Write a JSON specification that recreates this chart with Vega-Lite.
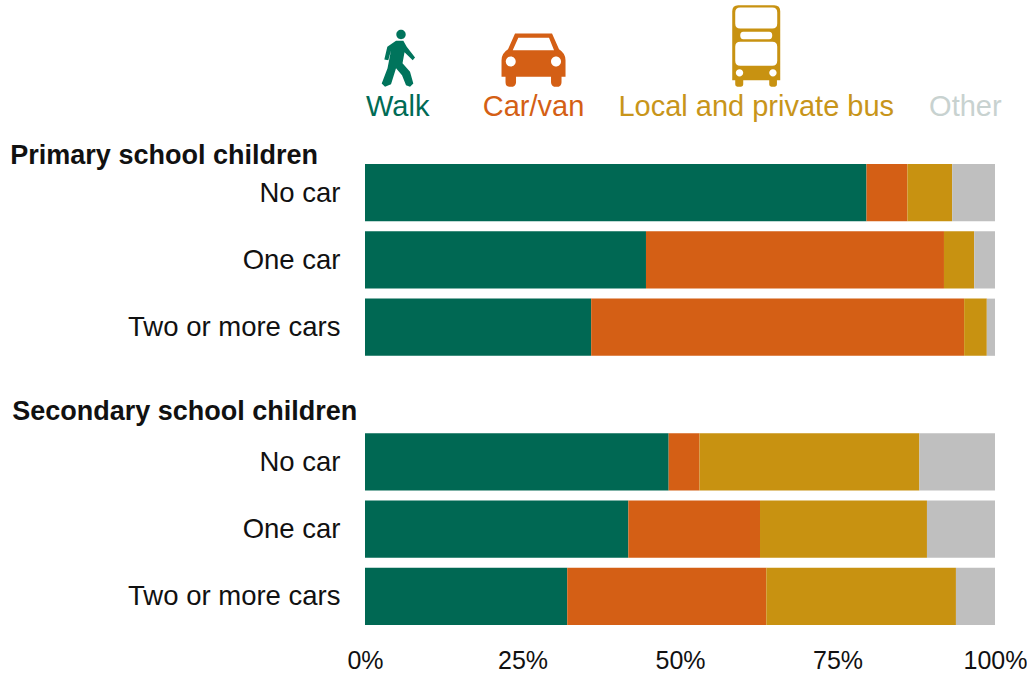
{"$schema":"https://vega.github.io/schema/vega-lite/v6.json","width":630,"height":471,"autosize":{"type":"none"},"padding":{"left":365,"top":159,"right":32,"bottom":45},"background":"white","config":{"view":{"stroke":null},"font":"Liberation Sans"},"resolve":{"scale":{"color":"independent"}},"layer":[{"data":{"values":[{"row":"p0","mode":"Walk","pos":1,"share":79.6},{"row":"p0","mode":"Car/van","pos":2,"share":6.5},{"row":"p0","mode":"Local and private bus","pos":3,"share":7.1},{"row":"p0","mode":"Other","pos":4,"share":6.8},{"row":"p1","mode":"Walk","pos":1,"share":44.6},{"row":"p1","mode":"Car/van","pos":2,"share":47.3},{"row":"p1","mode":"Local and private bus","pos":3,"share":4.8},{"row":"p1","mode":"Other","pos":4,"share":3.3},{"row":"p2","mode":"Walk","pos":1,"share":35.9},{"row":"p2","mode":"Car/van","pos":2,"share":59.2},{"row":"p2","mode":"Local and private bus","pos":3,"share":3.6},{"row":"p2","mode":"Other","pos":4,"share":1.3},{"row":"s0","mode":"Walk","pos":1,"share":48.2},{"row":"s0","mode":"Car/van","pos":2,"share":4.9},{"row":"s0","mode":"Local and private bus","pos":3,"share":34.9},{"row":"s0","mode":"Other","pos":4,"share":12.0},{"row":"s1","mode":"Walk","pos":1,"share":41.8},{"row":"s1","mode":"Car/van","pos":2,"share":20.9},{"row":"s1","mode":"Local and private bus","pos":3,"share":26.5},{"row":"s1","mode":"Other","pos":4,"share":10.8},{"row":"s2","mode":"Walk","pos":1,"share":32.1},{"row":"s2","mode":"Car/van","pos":2,"share":31.6},{"row":"s2","mode":"Local and private bus","pos":3,"share":30.1},{"row":"s2","mode":"Other","pos":4,"share":6.2}]},"mark":{"type":"bar"},"encoding":{"y":{"field":"row","type":"nominal","scale":{"domain":["p0","p1","p2","gap","s0","s1","s2"],"paddingInner":0.15,"paddingOuter":0.075},"axis":{"title":null,"ticks":false,"domain":false,"labelFontSize":27.5,"labelLimit":300,"labelColor":"#111111","labelPadding":25,"labelOffset":1,"labelExpr":"datum.value=='gap'?'':(datum.value=='p0'||datum.value=='s0')?'No car':(datum.value=='p1'||datum.value=='s1')?'One car':'Two or more cars'"}},"x":{"field":"share","type":"quantitative","stack":"zero","scale":{"domain":[0,100],"nice":false},"axis":{"title":null,"grid":false,"ticks":false,"domain":false,"values":[0,25,50,75,100],"labelFontSize":25,"labelColor":"#111111","labelPadding":18,"labelExpr":"datum.value+'%'","labelFlush":false}},"order":{"field":"pos","type":"quantitative"},"color":{"field":"mode","type":"nominal","legend":null,"scale":{"domain":["Walk","Car/van","Local and private bus","Other"],"range":["#006853","#d45f15","#c89211","#bfbfbf"]}}}},{"data":{"values":[{"row":"p0","mode":"Walk","at":5.2},{"row":"p0","mode":"Car/van","at":26.75},{"row":"p0","mode":"Local and private bus","at":62.1},{"row":"p0","mode":"Other","at":95.3}]},"mark":{"type":"text","fontSize":29,"dy":-86,"clip":false},"encoding":{"x":{"field":"at","type":"quantitative"},"y":{"field":"row","type":"nominal"},"text":{"field":"mode"},"color":{"field":"mode","type":"nominal","legend":null,"scale":{"domain":["Walk","Car/van","Local and private bus","Other"],"range":["#006b55","#d45f15","#c8951a","#c8d2d0"]}}}},{"data":{"values":[{"row":"p0","mode":"Walk","at":5.4},{"row":"p0","mode":"Car/van","at":26.75},{"row":"p0","mode":"Local and private bus","at":62.1}]},"mark":{"type":"point","filled":true,"opacity":1,"size":4,"yOffset":-132.5,"clip":false},"encoding":{"x":{"field":"at","type":"quantitative"},"y":{"field":"row","type":"nominal"},"shape":{"field":"mode","type":"nominal","legend":null,"scale":{"domain":["Walk","Car/van","Local and private bus"],"range":["M-3,-19.3 L4.3,-19.3 L7.7,-13.3 L16,-2.7 L13.7,0 L5.5,-8 L3.5,3 L11,11.7 L14.3,23.3 L11,26.7 L7,25 L3,15 L-3,8 L-8,24 L-14,26.7 L-17.3,23.3 L-11.5,8 L-8,-10 L-10.7,0 L-14.7,-0.7 L-11.7,-13.3 Z M-2.7,-25.7 A4.7,4.7 0 1 1 6.7,-25.7 A4.7,4.7 0 1 1 -2.7,-25.7 Z","M-18.5,-26.7 L18.5,-26.7 L25.5,-11 Q32,-7 32,0 L32,16.7 L28,16.7 L28,22 Q28,26.7 23,26.7 Q17.5,26.7 17.5,22 L17.5,16.7 L-17.5,16.7 L-17.5,22 Q-17.5,26.7 -23,26.7 Q-28,26.7 -28,22 L-28,16.7 L-32,16.7 L-32,0 Q-32,-7 -25.5,-11 Z M-15.2,-22.3 L-20.8,-10 L20.5,-10 L15.5,-22.3 Z M-27.8,1.3 A5,5 0 1 0 -17.8,1.3 A5,5 0 1 0 -27.8,1.3 Z M17.5,1.3 A5,5 0 1 0 27.5,1.3 A5,5 0 1 0 17.5,1.3 Z","M-18,-55 L18,-55 Q24,-55 24,-49 L24,20 L20.7,20 L20.7,24 Q20.7,26.7 17,26.7 Q13,26.7 13,24 L13,20 L-13,20 L-13,24 Q-13,26.7 -17,26.7 Q-21,26.7 -21,24 L-21,20 L-24,20 L-24,-49 Q-24,-55 -18,-55 Z M-16,-52.7 Q-21,-52.7 -21,-47.7 L-21,-36.7 Q-21,-31.7 -16,-31.7 L16,-31.7 Q21,-31.7 21,-36.7 L21,-47.7 Q21,-52.7 16,-52.7 Z M-13,-28.3 Q-16,-28.3 -16,-24.6 Q-16,-21 -13,-21 L13,-21 Q16,-21 16,-24.6 Q16,-28.3 13,-28.3 Z M-16,-18.3 Q-21,-18.3 -21,-13.3 L-21,0.7 Q-21,5.7 -16,5.7 L16,5.7 Q21,5.7 21,0.7 L21,-13.3 Q21,-18.3 16,-18.3 Z M-20.4,12.7 A3.7,3.7 0 1 0 -13,12.7 A3.7,3.7 0 1 0 -20.4,12.7 Z M13,12.7 A3.7,3.7 0 1 0 20.4,12.7 A3.7,3.7 0 1 0 13,12.7 Z"]}},"color":{"field":"mode","type":"nominal","legend":null,"scale":{"domain":["Walk","Car/van","Local and private bus"],"range":["#00745c","#d45f15","#c89211"]}}}},{"data":{"values":[{"row":"p0","label":"Primary school children","at":-56.3}]},"mark":{"type":"text","fontSize":27,"fontWeight":"bold","align":"left","dy":-36.5,"color":"#111111","clip":false},"encoding":{"x":{"field":"at","type":"quantitative"},"y":{"field":"row","type":"nominal"},"text":{"field":"label"}}},{"data":{"values":[{"row":"s0","label":"Secondary school children","at":-56}]},"mark":{"type":"text","fontSize":27,"fontWeight":"bold","align":"left","dy":-49.5,"color":"#111111","clip":false},"encoding":{"x":{"field":"at","type":"quantitative"},"y":{"field":"row","type":"nominal"},"text":{"field":"label"}}}]}
